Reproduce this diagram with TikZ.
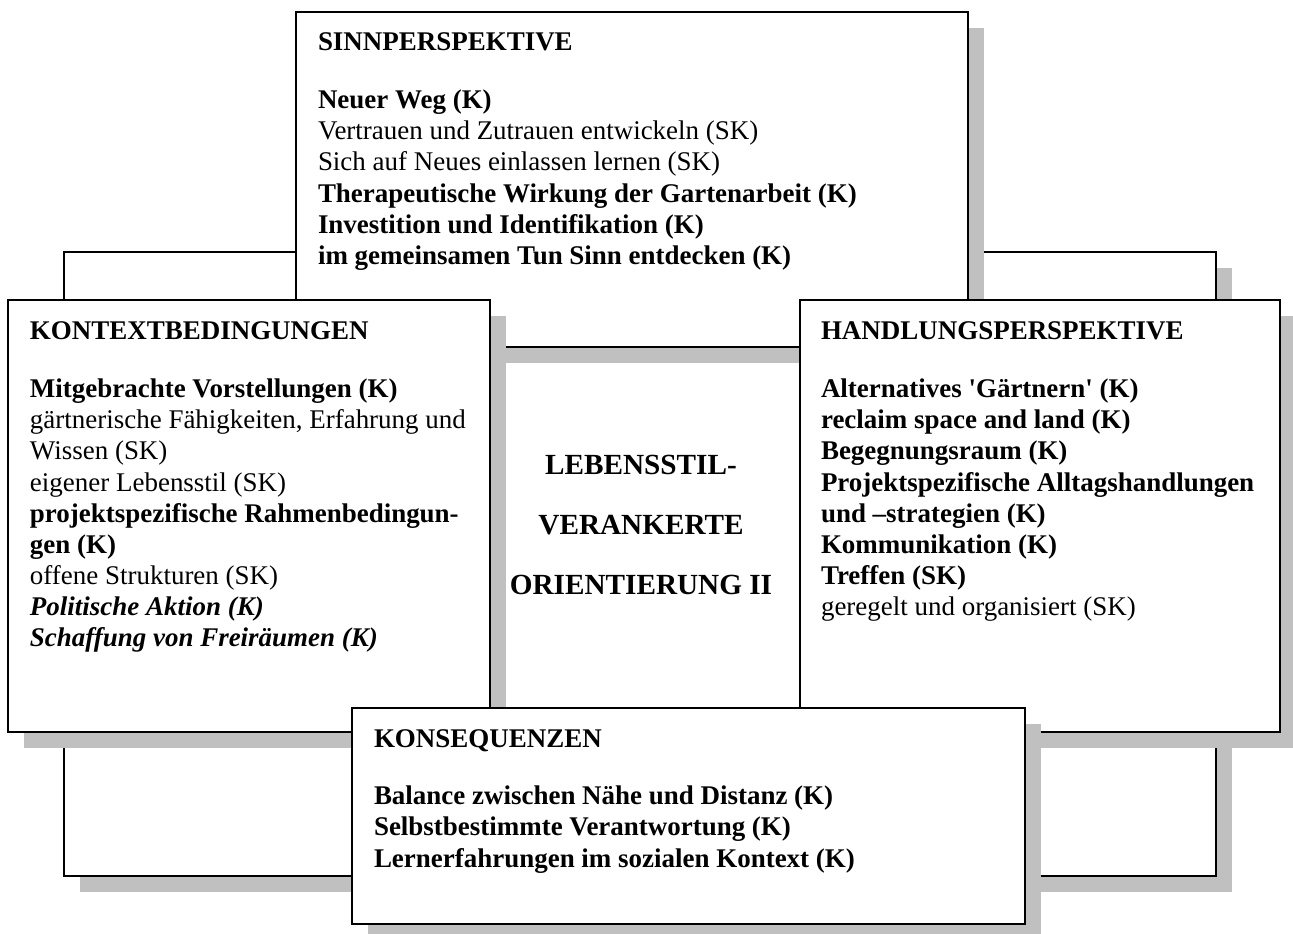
\documentclass[tikz,border=0pt]{standalone}
\usepackage{fontspec}
\setmainfont{Liberation Serif}
\definecolor{shadowgray}{HTML}{C0C0C0}
\tikzset{
  box/.style={draw=black, line width=1.1pt, fill=white},
  bgbox/.style={draw=black, line width=0.8pt, fill=white},
  shadowfill/.style={fill=shadowgray, draw=none},
  txt/.style={anchor=base west, inner sep=0pt, outer sep=0pt},
  ctxt/.style={anchor=base, inner sep=0pt, outer sep=0pt},
}
\newcommand{\boxfont}{\fontsize{12}{13.8}\selectfont}
\newcommand{\sq}{\textquotesingle}
\begin{document}
\begin{tikzpicture}[x=0.445pt, y=-0.445pt]
\clip (0,0) rectangle (1293,934);
\fill[white] (0,0) rectangle (1293,934);
% background frame
\fill[shadowfill] (80,268) rectangle (1232,892);
\draw[bgbox] (64,252) rectangle (1216,876);
% top box
\fill[shadowfill] (312,28) rectangle (984,363);
\draw[box] (296,12) rectangle (968,347);
\node[txt] (sinn) at (318,51) {\parbox[t]{300pt}{\boxfont\raggedright
\textbf{SINNPERSPEKTIVE}\\[12pt]
\textbf{Neuer Weg (K)}\\
Vertrauen und Zutrauen entwickeln (SK)\\
Sich auf Neues einlassen lernen (SK)\\
\textbf{Therapeutische Wirkung der Gartenarbeit (K)}\\
\textbf{Investition und Identifikation (K)}\\
\textbf{im gemeinsamen Tun Sinn entdecken (K)}}};
% left box
\fill[shadowfill] (24,316) rectangle (506,748);
\draw[box] (8,300) rectangle (490,732);
\node[txt] (kontext) at (30,340) {\parbox[t]{215pt}{\boxfont\raggedright
\textbf{KONTEXTBEDINGUNGEN}\\[12pt]
\textbf{Mitgebrachte Vorstellungen (K)}\\
gärtnerische Fähigkeiten, Erfahrung und\\
Wissen (SK)\\
eigener Lebensstil (SK)\\
\textbf{projektspezifische Rahmenbedingun-}\\
\textbf{gen (K)}\\
offene Strukturen (SK)\\
\textbf{\textit{Politische Aktion (K)}}\\
\textbf{\textit{Schaffung von Freiräumen (K)}}}};
% right box
\fill[shadowfill] (816,316) rectangle (1296,748);
\draw[box] (800,300) rectangle (1280,732);
\node[txt] (handlung) at (821,340) {\parbox[t]{215pt}{\boxfont\raggedright
\textbf{HANDLUNGSPERSPEKTIVE}\\[12pt]
\textbf{Alternatives \sq Gärtnern\sq\ (K)}\\
\textbf{reclaim space and land (K)}\\
\textbf{Begegnungsraum (K)}\\
\textbf{Projektspezifische Alltagshandlungen}\\
\textbf{und –strategien (K)}\\
\textbf{Kommunikation (K)}\\
\textbf{Treffen (SK)}\\
geregelt und organisiert (SK)}};
% bottom box
\fill[shadowfill] (368,724) rectangle (1041,940);
\draw[box] (352,708) rectangle (1025,924);
\node[txt] (kons) at (374,747) {\parbox[t]{300pt}{\boxfont\raggedright
\textbf{KONSEQUENZEN}\\[12pt]
\textbf{Balance zwischen Nähe und Distanz (K)}\\
\textbf{Selbstbestimmte Verantwortung (K)}\\
\textbf{Lernerfahrungen im sozialen Kontext (K)}}};
% centre
\node[ctxt] (mitte) at (641,475) {\parbox[t]{130pt}{\fontsize{13}{26.7}\selectfont\centering\bfseries
LEBENSSTIL-\\
VERANKERTE\\
ORIENTIERUNG II}};
\end{tikzpicture}
\end{document}
